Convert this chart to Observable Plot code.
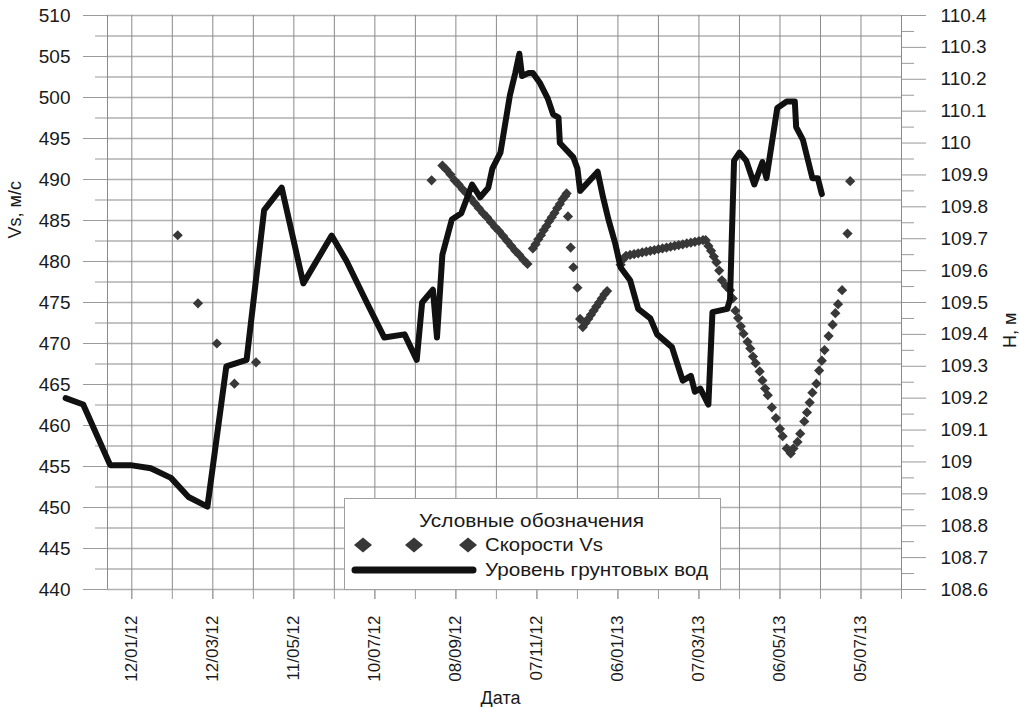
<!DOCTYPE html>
<html><head><meta charset="utf-8">
<script src="https://cdn.jsdelivr.net/npm/d3@7"></script>
<script src="https://cdn.jsdelivr.net/npm/@observablehq/plot@0.6"></script>
<style>
body{margin:0;background:#fff;font-family:Arial,"Liberation Sans",sans-serif;color:#1a1a1a}
#wrap{position:relative;width:1019px;height:707px}
#legend{position:absolute;left:344px;top:498px;width:375px;height:90px;border:1px solid #a0a0a0;background:#fff}
#legend text{font-family:Arial,"Liberation Sans",sans-serif;font-size:18px;fill:#1a1a1a}
</style></head><body><div id="wrap"></div>
<script>
// Groundwater level H, m (right axis)
const hDates = ["2011-11-24","2011-12-07","2011-12-27","2012-01-11","2012-01-26","2012-02-10","2012-02-23","2012-03-08","2012-03-22","2012-04-06","2012-04-19","2012-05-02","2012-05-18","2012-06-08","2012-06-19","2012-07-04","2012-07-17","2012-08-01","2012-08-10","2012-08-14","2012-08-22","2012-08-25","2012-08-29","2012-09-05","2012-09-12","2012-09-20","2012-09-26","2012-10-02","2012-10-05","2012-10-11","2012-10-18","2012-10-22","2012-10-25","2012-10-27","2012-11-01","2012-11-04","2012-11-09","2012-11-15","2012-11-19","2012-11-23","2012-11-24","2012-12-04","2012-12-07","2012-12-09","2012-12-22","2012-12-26","2012-12-30","2013-01-04","2013-01-08","2013-01-15","2013-01-21","2013-01-30","2013-02-04","2013-02-15","2013-02-23","2013-03-01","2013-03-04","2013-03-08","2013-03-14","2013-03-17","2013-03-28","2013-03-30","2013-04-02","2013-04-06","2013-04-11","2013-04-17","2013-04-23","2013-04-26","2013-04-28","2013-05-04","2013-05-11","2013-05-17","2013-05-18","2013-05-23","2013-05-30","2013-06-03","2013-06-06"];
const hValues = [109.20,109.18,108.99,108.99,108.98,108.95,108.89,108.86,109.30,109.32,109.79,109.86,109.56,109.71,109.63,109.50,109.39,109.40,109.32,109.50,109.54,109.39,109.65,109.76,109.78,109.87,109.83,109.86,109.92,109.97,110.15,110.22,110.28,110.21,110.22,110.22,110.19,110.14,110.09,110.08,110.00,109.955,109.92,109.85,109.91,109.83,109.76,109.685,109.61,109.57,109.48,109.45,109.40,109.36,109.255,109.27,109.22,109.23,109.18,109.47,109.48,109.51,109.945,109.97,109.945,109.87,109.94,109.89,109.945,110.11,110.13,110.13,110.05,110.01,109.89,109.89,109.84];

// Velocities Vs, m/s (left axis)
const vsDates = ["2012-02-15","2012-03-01","2012-03-15","2012-03-28","2012-04-13",
"2012-08-21","2012-08-29","2012-09-01","2012-09-04","2012-09-07","2012-09-10","2012-09-13","2012-09-16","2012-09-19","2012-09-22","2012-09-25","2012-09-28","2012-10-01","2012-10-04","2012-10-07","2012-10-10","2012-10-13","2012-10-16","2012-10-19","2012-10-22","2012-10-25","2012-10-28","2012-10-31",
"2012-11-04","2012-11-06","2012-11-08","2012-11-10","2012-11-12","2012-11-14","2012-11-16","2012-11-18","2012-11-20","2012-11-22","2012-11-24","2012-11-26","2012-11-28","2012-11-29",
"2012-11-30","2012-12-02","2012-12-04","2012-12-07",
"2012-12-09","2012-12-11","2012-12-13","2012-12-15","2012-12-17","2012-12-19","2012-12-21","2012-12-23","2012-12-25","2012-12-27","2012-12-29",
"2013-01-08","2013-01-10","2013-01-12","2013-01-15","2013-01-18","2013-01-21","2013-01-24","2013-01-27","2013-01-30","2013-02-02","2013-02-05","2013-02-08","2013-02-11","2013-02-14","2013-02-17","2013-02-20","2013-02-23","2013-02-26","2013-03-01","2013-03-04","2013-03-07","2013-03-10",
"2013-03-12","2013-03-14","2013-03-16","2013-03-18","2013-03-20","2013-03-22","2013-03-24","2013-03-27","2013-03-30","2013-04-01","2013-04-03","2013-04-05","2013-04-07","2013-04-09","2013-04-12","2013-04-14","2013-04-16","2013-04-18","2013-04-21","2013-04-23","2013-04-25","2013-04-27","2013-04-30","2013-05-03","2013-05-06","2013-05-08","2013-05-11","2013-05-14",
"2013-05-16","2013-05-19","2013-05-21","2013-05-24","2013-05-26","2013-05-28","2013-05-30","2013-06-02","2013-06-04","2013-06-06","2013-06-08","2013-06-11","2013-06-14","2013-06-16","2013-06-18","2013-06-21",
"2013-06-25","2013-06-27"];
const vsValues = [483.2,474.9,470.0,465.1,467.7,
489.9,491.7,491.2,490.6,489.9,489.4,488.8,488.3,487.7,487.1,486.5,485.9,485.4,484.8,484.2,483.7,483.1,482.5,481.9,481.3,480.8,480.2,479.7,
481.6,482.1,482.7,483.2,483.8,484.3,484.9,485.4,485.9,486.5,487.0,487.6,488.0,488.3,
485.5,481.7,479.3,476.8,
473.0,472.0,472.5,473.0,473.5,474.0,474.5,475.0,475.5,476.0,476.4,
479.6,480.3,480.7,480.8,480.9,481.0,481.1,481.2,481.3,481.4,481.5,481.6,481.7,481.8,481.9,482.0,482.1,482.2,482.3,482.4,482.5,482.6,
482.6,481.9,481.3,480.6,479.9,478.9,477.7,477.0,476.5,475.5,474.0,473.1,472.1,471.2,470.2,469.4,468.4,467.6,466.6,465.5,464.5,463.7,462.2,460.9,459.6,458.7,457.2,456.6,
457.2,458.0,459.0,460.5,461.6,462.8,464.0,465.1,466.7,467.9,469.2,470.9,472.3,473.7,474.8,476.5,
483.4,489.8];

const vsTicks = [440,445,450,455,460,465,470,475,480,485,490,495,500,505,510];
const vsMinorTicks = [442.5,447.5,452.5,457.5,462.5,467.5,472.5,477.5,482.5,487.5,492.5,497.5,502.5,507.5];
const hTicks = [108.6,108.7,108.8,108.9,109.0,109.1,109.2,109.3,109.4,109.5,109.6,109.7,109.8,109.9,110.0,110.1,110.2,110.3,110.4];
const hMinorTicks = [108.65,108.75,108.85,108.95,109.05,109.15,109.25,109.35,109.45,109.55,109.65,109.75,109.85,109.95,110.05,110.15,110.25,110.35];
const xTicksAll = ["2012-01-12","2012-02-11","2012-03-12","2012-04-11","2012-05-11","2012-06-10","2012-07-10","2012-08-09","2012-09-08","2012-10-08","2012-11-07","2012-12-07","2013-01-06","2013-02-05","2013-03-07","2013-04-06","2013-05-06","2013-06-05","2013-07-05","2013-08-04"];
const xTickLabels = ["2012-01-12","2012-03-12","2012-05-11","2012-07-10","2012-09-08","2012-11-07","2013-01-06","2013-03-07","2013-05-06","2013-07-05"];
const xDomain = ["2011-12-25","2013-08-04"];

const H0 = 108.6, H1 = 110.4, V0 = 440, V1 = 510;
const toVs = h => V0 + (h - H0) * (V1 - V0) / (H1 - H0);
const hLabel = new Map(hTicks.map(h => [toVs(h).toFixed(4), String(+h.toFixed(1))]));

const hData = hDates.map((d, i) => ({date: new Date(d), vs: toVs(hValues[i])}));
const vsData = vsDates.map((d, i) => ({date: new Date(d), vs: vsValues[i]}));
const gridY = [...vsTicks, ...vsMinorTicks];
const fmtDate = d3.utcFormat("%d/%m/%y");
const gridColor = "#b0b0b0", vGridColor = "#8a8a8a", tickColor = "#9a9a9a";

const chart = Plot.plot({
  width: 1019, height: 707,
  marginLeft: 107, marginRight: 118, marginTop: 15, marginBottom: 118,
  style: {fontFamily: "Arial, 'Liberation Sans', sans-serif", fontSize: "18px", color: "#1a1a1a", background: "#fff"},
  x: {type: "utc", domain: xDomain.map(d => new Date(d))},
  y: {domain: [V0, V1]},
  marks: [
    Plot.ruleY(gridY, {stroke: gridColor, strokeWidth: 1.4}),
    Plot.ruleX(xTicksAll.map(d => new Date(d)), {stroke: vGridColor, strokeWidth: 1}),
    Plot.ruleX([new Date(xDomain[0])], {stroke: vGridColor, strokeWidth: 1}),
    Plot.axisY(vsTicks, {anchor: "left", tickSize: 24, tickPadding: 13, stroke: tickColor, fill: "#1a1a1a", fontSize: 19, label: null}),
    Plot.axisY(vsMinorTicks, {anchor: "left", tickSize: 12, tickFormat: () => "", stroke: tickColor, label: null}),
    Plot.axisY(hTicks.map(toVs), {anchor: "right", tickSize: 24, tickPadding: 15, stroke: tickColor, fill: "#1a1a1a", fontSize: 19, label: null,
      tickFormat: v => hLabel.get(v.toFixed(4))}),
    Plot.axisY(hMinorTicks.map(toVs), {anchor: "right", tickSize: 12, tickFormat: () => "", stroke: tickColor, label: null}),
    Plot.axisX(xTicksAll.map(d => new Date(d)), {tickSize: 10, tickFormat: () => "", stroke: tickColor, label: null}),
    Plot.axisX(xTickLabels.map(d => new Date(d)), {tickSize: 10, tickPadding: 16, tickRotate: -90, tickFormat: fmtDate, stroke: tickColor, fill: "#1a1a1a", fontSize: 17, label: null}),
    Plot.dot(vsData, {x: "date", y: "vs", symbol: "diamond2", r: 4.6, fill: "#383838", stroke: "none"}),
    Plot.line(hData, {x: "date", y: "vs", stroke: "#111", strokeWidth: 6, strokeLinejoin: "round", strokeLinecap: "round"}),
    Plot.text(["Vs, м/с"], {frameAnchor: "left", dx: -92, dy: -64, rotate: -90, fontSize: 18, fill: "#1a1a1a"}),
    Plot.text(["H, м"], {frameAnchor: "right", dx: 109, dy: 10, rotate: -90, fontSize: 18, fill: "#1a1a1a"}),
    Plot.text(["Дата"], {frameAnchor: "bottom", dx: -4, dy: 114, fontSize: 18, fill: "#1a1a1a"})
  ]
});
const wrap = document.getElementById("wrap");
wrap.appendChild(chart);

const legend = document.createElement("div");
legend.id = "legend";
legend.innerHTML = `<svg width="375" height="90">
<text x="74" y="28" textLength="225" lengthAdjust="spacingAndGlyphs">Условные обозначения</text>
<path d="M9,46L18,38.5L27,46L18,53.5Z" fill="#383838"/>
<path d="M60,46L69,38.5L78,46L69,53.5Z" fill="#383838"/>
<path d="M114,46L123,38.5L132,46L123,53.5Z" fill="#383838"/>
<text x="140" y="52" textLength="118" lengthAdjust="spacingAndGlyphs">Скорости Vs</text>
<line x1="10" y1="71" x2="128" y2="71" stroke="#111" stroke-width="7" stroke-linecap="round"/>
<text x="140" y="77" textLength="223" lengthAdjust="spacingAndGlyphs">Уровень грунтовых вод</text>
</svg>`;
wrap.appendChild(legend);
</script></body></html>
